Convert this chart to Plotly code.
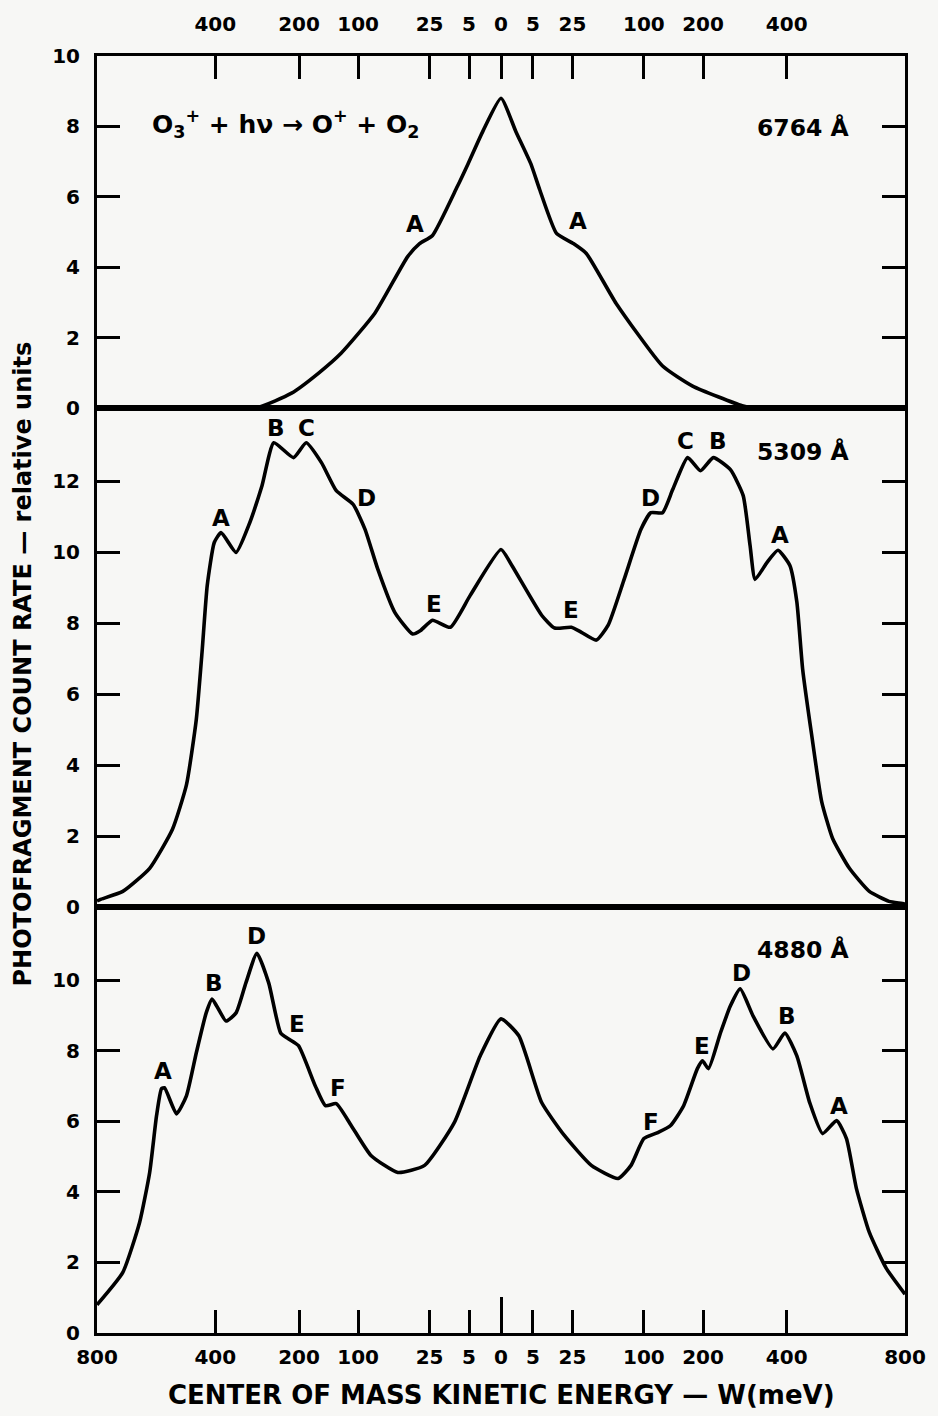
import numpy as np
import plotly.graph_objects as go

# ---------------- data (W in meV, signed: left = negative; y = relative units) -------------
top_w = [-800, -295, -215, -163, -125, -78, -42.7, -32.5, -23, -9.35, -5.3, -1.56, 0,
         1.09, 4.35, 7.35, 15.1, 25.7, 35.7, 65, 128, 180, 285, 309, 800]
top_y = [0, 0, 0.42, 0.99, 1.56, 2.69, 4.3, 4.67, 4.9, 6.29, 6.94, 7.88, 8.8,
         7.85, 6.94, 6.2, 4.96, 4.67, 4.39, 2.97, 1.19, 0.62, 0.06, 0, 0]

mid_w = [-800, -788, -701, -605, -529, -485, -455, -438, -423, -403, -384, -344, -312, -280,
         -253, -211, -186, -158, -133, -107, -90.6, -74.3, -55.3, -38.3, -31.7, -23,
         -12.6, -4.64, 0, 0.58, 8.1, 14.1, 24.3, 31.7, 44.5, 56.3, 74.3, 96, 110, 128,
         144.5, 170.7, 195, 221, 258, 287.5, 304, 316.5, 347, 376, 409, 429, 446, 473,
         504, 539, 595, 665, 738, 796, 800]
mid_y = [0.18, 0.22, 0.45, 1.1, 2.2, 3.45, 5.3, 7.2, 9.07, 10.28, 10.56, 10.0, 10.76, 11.88,
         13.09, 12.67, 13.09, 12.53, 11.74, 11.35, 10.65, 9.52, 8.31, 7.7, 7.8, 8.09,
         7.89, 8.79, 10.08, 9.63, 8.23, 7.87, 7.89, 7.75, 7.53, 7.95, 9.24, 10.65, 11.12, 11.12,
         11.77, 12.67, 12.3, 12.67, 12.33, 11.6, 10.2, 9.24, 9.72, 10.06, 9.63, 8.6, 6.71, 4.86,
         2.98, 1.94, 1.1, 0.45, 0.17, 0.1, 0.08]

bot_w = [-800, -701, -640, -605, -581.5, -565, -555, -516, -485, -455, -426, -409, -370.6,
         -344, -319, -292, -264.5, -238, -221, -201, -169, -151, -133, -110, -82.9, -52.2,
         -28.6, -10.7, -2.13, 0, 1.56, 8.1, 19.8, 40, 67.3, 82.9, 100, 120.5, 141, 163.5,
         189, 199, 211, 236, 258, 280.5, 311.6, 362.5, 395, 429, 467, 507, 552, 585, 619,
         665, 727, 800]
bot_y = [0.8, 1.72, 3.14, 4.55, 6.16, 6.92, 6.95, 6.21, 6.72, 7.94, 9.07, 9.46, 8.84,
         9.07, 9.92, 10.76, 9.92, 8.5, 8.33, 8.14, 7.0, 6.44, 6.5, 5.88, 5.03, 4.55,
         4.75, 5.96, 7.85, 8.9, 8.42, 6.53, 5.59, 4.75, 4.38, 4.75, 5.51, 5.68, 5.88, 6.44,
         7.49, 7.71, 7.49, 8.5, 9.27, 9.75, 8.98, 8.05, 8.5, 7.85, 6.53, 5.65, 6.02, 5.51, 4.1,
         2.85, 1.84, 1.1]

tick_w = [-800, -400, -200, -100, -25, -5, 0, 5, 25, 100, 200, 400, 800]
top_tick_w = [-400, -200, -100, -25, -5, 0, 5, 25, 100, 200, 400]

# peak labels: (text, W, y)
top_labels = [("A", -36.6, 5.24), ("A", 29.4, 5.3)]
mid_labels = [("A", -384, 10.98), ("B", -249, 13.51), ("C", -185.5, 13.51), ("D", -89.3, 11.54),
              ("E", -21.7, 8.54), ("C", 167, 13.15), ("B", 231.6, 13.15), ("D", 110, 11.54),
              ("E", 24.3, 8.37), ("A", 381, 10.48)]
bot_labels = [("D", -292, 11.24), ("B", -403, 9.92), ("A", -561.5, 7.43), ("E", -203, 8.76),
              ("F", -130, 6.95), ("D", 283, 10.2), ("B", 400.6, 8.98), ("E", 199, 8.14),
              ("F", 110, 5.99), ("A", 561.5, 6.44)]
wavelengths = ["6764 Å", "5309 Å", "4880 Å"]


def pos(w):
    w = np.asarray(w, dtype=float)
    return np.sign(w) * np.sqrt(np.abs(w))


R = np.sqrt(800)
BG = "#f7f7f5"
FONT = "DejaVu Sans"
LW = 3.6

fig = go.Figure()
for w, y, xa, ya in [(top_w, top_y, "x3", "y3"), (mid_w, mid_y, "x2", "y2"), (bot_w, bot_y, "x", "y")]:
    fig.add_trace(go.Scatter(x=pos(w), y=y, mode="lines", xaxis=xa, yaxis=ya,
                             line=dict(color="black", width=LW, shape="spline", smoothing=0.5),
                             showlegend=False, hoverinfo="skip"))

tf = dict(family=FONT, size=20, color="black", weight="bold")
common_x = dict(range=[-R, R], showgrid=False, zeroline=False, showline=True, linewidth=3,
                linecolor="black", mirror=True)
d_top = 0.7244
d_mid = 0.3333

fig.update_layout(
    width=938, height=1416,
    margin=dict(l=97, r=27, t=52, b=83),
    paper_bgcolor=BG, plot_bgcolor=BG,
    font=dict(family=FONT, color="black"),
    xaxis=dict(**common_x, anchor="y", domain=[0, 1], tickvals=pos(tick_w),
               ticktext=[str(abs(v)) for v in tick_w], ticks="inside", ticklen=23, tickwidth=2.5,
               tickcolor="black", tickfont=tf, ticklabelstandoff=4),
    xaxis2=dict(**common_x, anchor="y2", domain=[0, 1], showticklabels=False, ticks=""),
    xaxis3=dict(**common_x, anchor="y3", domain=[0, 1], side="top", tickvals=pos(top_tick_w),
                ticktext=[str(abs(v)) for v in top_tick_w], ticks="inside", ticklen=23,
                tickwidth=2.5, tickcolor="black", tickfont=tf, ticklabelstandoff=14),
    xaxis4=dict(range=[-R, R], overlaying="x", anchor="y", side="bottom", tickvals=[0],
                ticks="inside", ticklen=36, tickwidth=2.5, tickcolor="black",
                showticklabels=False, showgrid=False, zeroline=False, showline=False),
)

common_y = dict(showgrid=False, zeroline=False, showline=True, linewidth=3, linecolor="black",
                mirror="ticks", ticks="inside", ticklen=23, tickwidth=2.5, tickcolor="black",
                tickfont=tf, ticklabelstandoff=10)
fig.update_layout(
    yaxis=dict(**common_y, anchor="x", domain=[0, d_mid], range=[0, 12.06],
               tickvals=[0, 2, 4, 6, 8, 10]),
    yaxis2=dict(**common_y, anchor="x2", domain=[d_mid, d_top], range=[0, 14.07],
                tickvals=[0, 2, 4, 6, 8, 10, 12]),
    yaxis3=dict(**common_y, anchor="x3", domain=[d_top, 1], range=[0, 10],
                tickvals=[0, 2, 4, 6, 8, 10]),
)

# empty trace so the overlay axis (long centre tick) is drawn
fig.add_trace(go.Scatter(x=[None], y=[None], xaxis="x4", yaxis="y", showlegend=False))

lf = dict(family=FONT, size=23, color="black", weight="bold")
wf = dict(family=FONT, size=23.5, color="black", weight="bold")
ann = []
for labels, xr, yr in [(top_labels, "x3", "y3"), (mid_labels, "x2", "y2"), (bot_labels, "x", "y")]:
    for t, w, y in labels:
        ann.append(dict(text=t, x=float(pos(w)), y=y, xref=xr, yref=yr, showarrow=False,
                        xanchor="center", yanchor="middle", font=lf))

for t, xr, yr, y in [(wavelengths[0], "x3", "y3", 7.96), (wavelengths[1], "x2", "y2", 12.84),
                     (wavelengths[2], "x", "y", 10.85)]:
    ann.append(dict(text=t, x=float(pos(605)), y=y, xref=xr, yref=yr, xanchor="right",
                    yanchor="middle", showarrow=False, font=wf))

ann.append(dict(text="O<sub>3</sub><sup>+</sup> + hν → O<sup>+</sup> + O<sub>2</sub>",
                x=float(pos(-605)), y=8.07, xref="x3", yref="y3", xanchor="left",
                yanchor="middle", showarrow=False,
                font=dict(family=FONT, size=25, color="black", weight="bold")))

ann.append(dict(text="PHOTOFRAGMENT COUNT RATE — relative units", textangle=-90,
                x=-0.092, y=0.524, xref="paper", yref="paper", xanchor="center",
                yanchor="middle", showarrow=False,
                font=dict(family=FONT, size=24, color="black", weight="bold")))
ann.append(dict(text="CENTER OF MASS KINETIC ENERGY — W(meV)",
                x=0.5, y=-0.0484, xref="paper", yref="paper", xanchor="center",
                yanchor="middle", showarrow=False,
                font=dict(family=FONT, size=26, color="black", weight="bold")))
fig.update_layout(annotations=ann)

fig.write_html("out.html")
